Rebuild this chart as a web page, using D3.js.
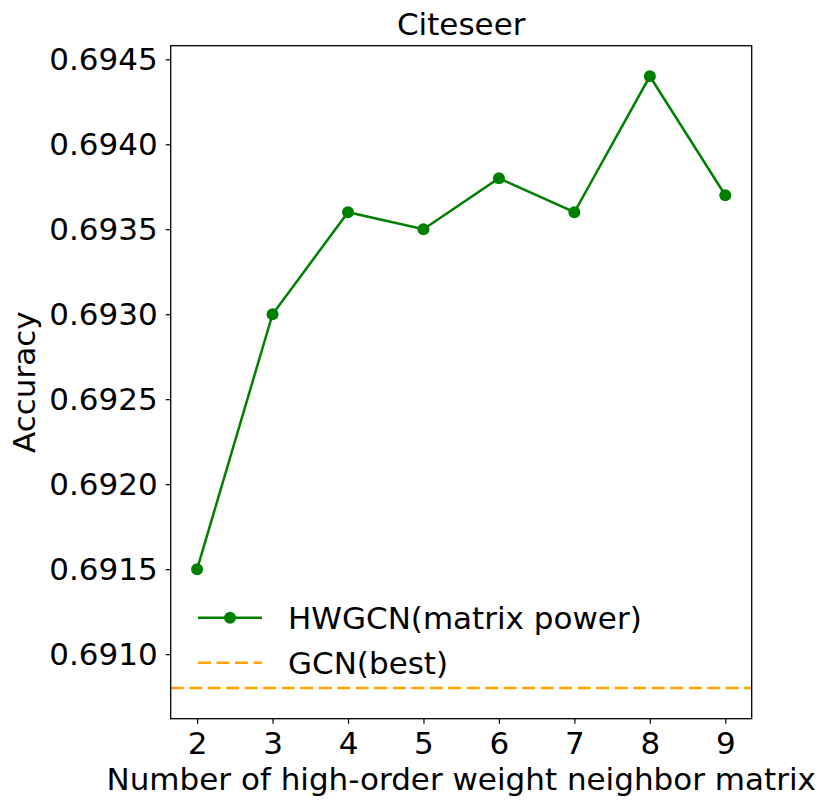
<!DOCTYPE html>
<html><head><meta charset="utf-8">
<script src="https://cdn.jsdelivr.net/npm/d3@7"></script>
<style>body{margin:0;background:#fff}svg{display:block}text{font-family:"DejaVu Sans";fill:#000}</style>
</head><body>
<script>
const xValues = [2, 3, 4, 5, 6, 7, 8, 9];
const hwgcnValues = [0.6915, 0.6930, 0.6936, 0.6935, 0.6938, 0.6936, 0.6944, 0.6937];
const gcnBest = 0.6908;
const yTicks = [0.6910, 0.6915, 0.6920, 0.6925, 0.6930, 0.6935, 0.6940, 0.6945];
const seriesNames = ["HWGCN(matrix power)", "GCN(best)"];
const title = "Citeseer";
const xLabel = "Number of high-order weight neighbor matrix";
const yLabel = "Accuracy";

const W = 831, H = 811;
const m = {left: 170.7, right: 751.7, top: 45.7, bottom: 718.7};
const svg = d3.select("body").append("svg").attr("width", W).attr("height", H);

const x = d3.scaleLinear().domain([1.65, 9.35]).range([m.left, m.right]);
const y = d3.scaleLinear().domain([0.69062, 0.69458]).range([m.bottom, m.top]);
const fs = 31;
const lw = 2.5;

// axes
const xAxis = svg.append("g").attr("transform", `translate(0,${m.bottom})`)
  .call(d3.axisBottom(x).tickValues(xValues).tickFormat(d3.format("d")).tickSize(5).tickPadding(6));
const yAxis = svg.append("g").attr("transform", `translate(${m.left},0)`)
  .call(d3.axisLeft(y).tickValues(yTicks).tickFormat(d3.format(".4f")).tickSize(5).tickPadding(8));
[xAxis, yAxis].forEach(g => {
  g.select(".domain").remove();
  g.selectAll("line").attr("stroke", "#000").attr("stroke-width", 1.2);
  g.selectAll("text").style("font-family", "DejaVu Sans").style("font-size", fs + "px").attr("fill", "#000");
});
xAxis.selectAll("text").attr("dy", "0.78em");

// GCN line
svg.append("line").attr("x1", m.left).attr("x2", m.right)
  .attr("y1", y(gcnBest)).attr("y2", y(gcnBest))
  .attr("stroke", "orange").attr("stroke-width", lw).attr("stroke-dasharray", "13,5.5");

// HWGCN line
const line = d3.line().x((d, i) => x(xValues[i])).y(d => y(d));
svg.append("path").datum(hwgcnValues).attr("d", line)
  .attr("fill", "none").attr("stroke", "green").attr("stroke-width", lw);
svg.selectAll("circle.pt").data(hwgcnValues).enter().append("circle")
  .attr("cx", (d, i) => x(xValues[i])).attr("cy", d => y(d)).attr("r", 6).attr("fill", "green");

// frame
svg.append("rect").attr("x", m.left).attr("y", m.top)
  .attr("width", m.right - m.left).attr("height", m.bottom - m.top)
  .attr("fill", "none").attr("stroke", "#000").attr("stroke-width", 1.3);

// legend
const lg = svg.append("g");
lg.append("line").attr("x1", 198).attr("x2", 262).attr("y1", 617.7).attr("y2", 617.7)
  .attr("stroke", "green").attr("stroke-width", lw);
lg.append("circle").attr("cx", 230).attr("cy", 617.7).attr("r", 6).attr("fill", "green");
lg.append("line").attr("x1", 198).attr("x2", 262).attr("y1", 662.7).attr("y2", 662.7)
  .attr("stroke", "orange").attr("stroke-width", lw).attr("stroke-dasharray", "13,5.5");
lg.append("text").attr("x", 288).attr("y", 617.7).attr("dy", "0.35em").style("font-size", fs + "px").text(seriesNames[0]);
lg.append("text").attr("x", 288).attr("y", 662.7).attr("dy", "0.35em").style("font-size", fs + "px").text(seriesNames[1]);

// titles
svg.append("text").attr("x", (m.left + m.right) / 2).attr("y", 35).attr("text-anchor", "middle")
  .style("font-size", fs + "px").text(title);
svg.append("text").attr("x", (m.left + m.right) / 2).attr("y", 790).attr("text-anchor", "middle")
  .style("font-size", fs + "px").text(xLabel);
svg.append("text").attr("transform", `translate(35,${(m.top + m.bottom) / 2}) rotate(-90)`)
  .attr("text-anchor", "middle").style("font-size", fs + "px").text(yLabel);
</script>
</body></html>
